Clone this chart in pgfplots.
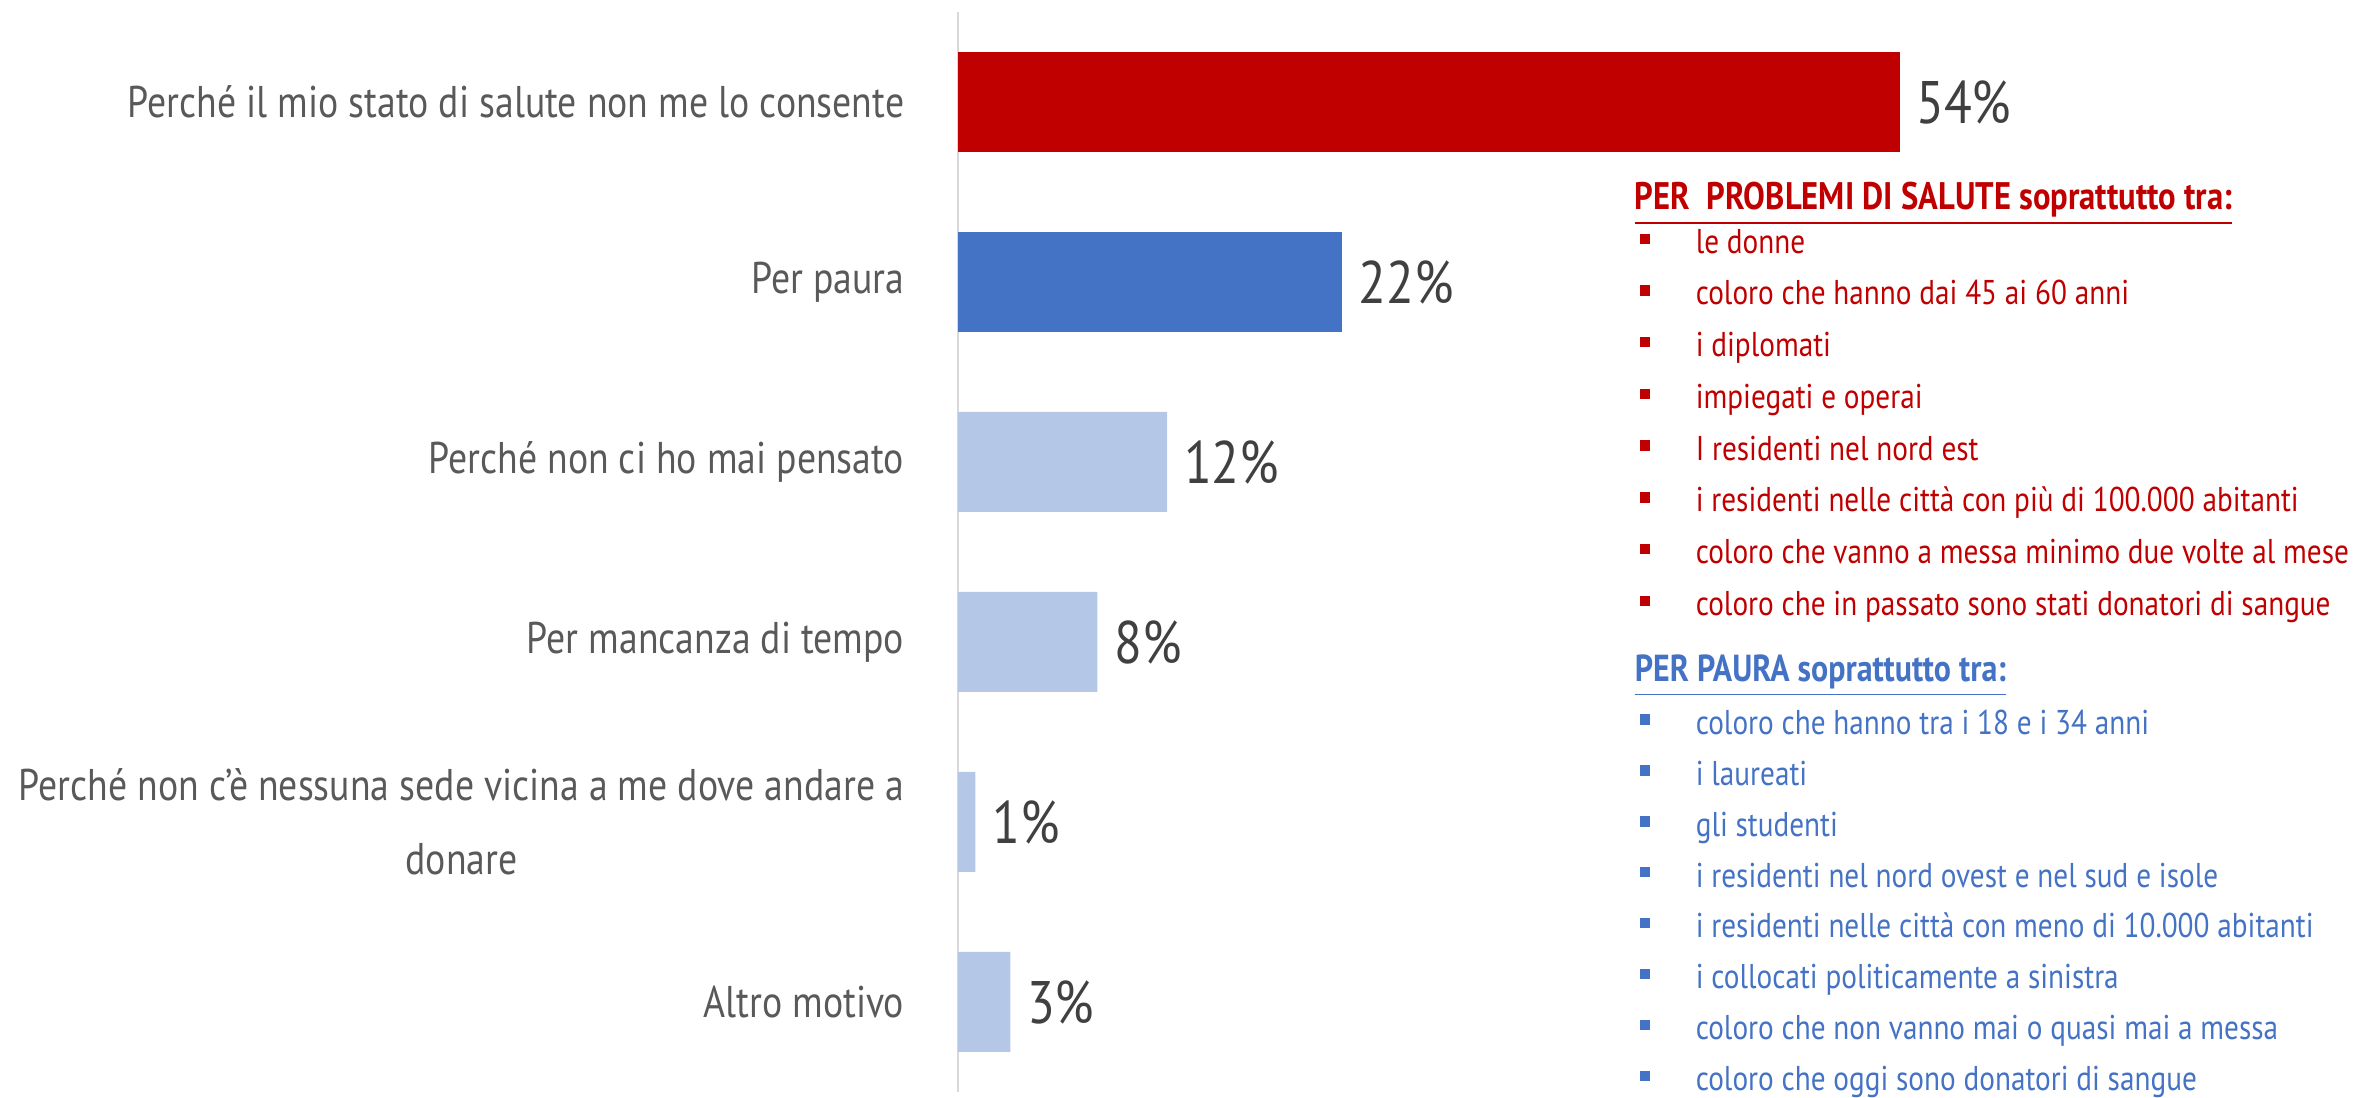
\documentclass[border=0pt]{standalone}
\usepackage{fontspec}
\setmainfont{PT Sans}[FakeStretch=0.85]
\usepackage{pgfplots}
\pgfplotsset{compat=1.18}
\definecolor{redbar}{HTML}{C00000}
\definecolor{bluebar}{HTML}{4472C4}
\definecolor{lightbar}{HTML}{B4C7E7}
\definecolor{labgray}{HTML}{595959}
\definecolor{valgray}{HTML}{404040}
\definecolor{axgray}{HTML}{D9D9D9}
\newcommand{\itemfont}{\fontsize{8.6}{10}\selectfont}
\begin{document}
\begin{tikzpicture}
\path[use as bounding box] (-239.5pt,-1.5pt) rectangle (354.75pt,273pt);
\begin{axis}[
  anchor=south west, at={(0pt,0pt)},
  xbar, bar width=25pt, bar shift=0pt,
  width=348.75pt, height=270pt, scale only axis,
  xmin=0, xmax=80, ymin=-0.5, ymax=5.5, y dir=reverse,
  axis x line=none, axis y line*=left,
  y axis line style={draw=axgray, line width=0.6pt},
  ytick={0,...,5},
  yticklabels={Perché il mio stato di salute non me lo consente,
    Per paura, Perché non ci ho mai pensato, Per mancanza di tempo,
    {Perché non c’è nessuna sede vicina a me dove andare a\\donare},
    Altro motivo},
  major tick length=0pt, ytick style={draw=none},
  yticklabel style={font=\fontsize{11.1}{18.5}\selectfont, align=center,
    text=labgray, inner sep=0pt, xshift=-13.25pt},
  point meta=x,
  nodes near coords={\pgfmathprintnumber{\pgfplotspointmeta}\%},
  nodes near coords style={font=\fontsize{15}{16}\selectfont, text=valgray,
    anchor=west, inner sep=0pt, xshift=4pt},
  /pgf/number format/assume math mode=true,
]
\addplot[fill=redbar, draw=none] coordinates {(54,0)};
\addplot[fill=bluebar, draw=none] coordinates {(22,1)};
\addplot[fill=lightbar, draw=none] coordinates {(12,2) (8,3) (1,4) (3,5)};
\end{axis}

% notes on the right
\node[anchor=base west, inner sep=0pt, text=redbar,
  font=\fontsize{9.6}{11}\selectfont\bfseries]
  at (169pt,220.6pt) {\underline{PER\ \ PROBLEMI DI SALUTE soprattutto tra:}};
\foreach \t [count=\i from 0] in {le donne, coloro che hanno dai 45 ai 60 anni,
  i diplomati, impiegati e operai, I residenti nel nord est,
  i residenti nelle città con più di 100.000 abitanti,
  coloro che vanno a messa minimo due volte al mese,
  coloro che in passato sono stati donatori di sangue} {
  \node[anchor=base west, inner sep=0pt, text=redbar, font=\itemfont]
    at (184.25pt,{209.7pt-\i*12.93pt}) {\t};
  \node[inner sep=0pt, fill=redbar, minimum size=2.6pt]
    at (171.8pt,{213.3pt-\i*12.93pt}) {};
}
\node[anchor=base west, inner sep=0pt, text=bluebar,
  font=\fontsize{9.4}{11}\selectfont\bfseries]
  at (169pt,102.6pt) {\underline{PER PAURA soprattutto tra:}};
\foreach \t [count=\i from 0] in {coloro che hanno tra i 18 e i 34 anni,
  i laureati, gli studenti, i residenti nel nord ovest e nel sud e isole,
  i residenti nelle città con meno di 10.000 abitanti,
  i collocati politicamente a sinistra,
  coloro che non vanno mai o quasi mai a messa,
  coloro che oggi sono donatori di sangue} {
  \node[anchor=base west, inner sep=0pt, text=bluebar, font=\itemfont]
    at (184.25pt,{89.4pt-\i*12.72pt}) {\t};
  \node[inner sep=0pt, fill=bluebar, minimum size=2.6pt]
    at (171.8pt,{93.1pt-\i*12.72pt}) {};
}
\end{tikzpicture}
\end{document}
